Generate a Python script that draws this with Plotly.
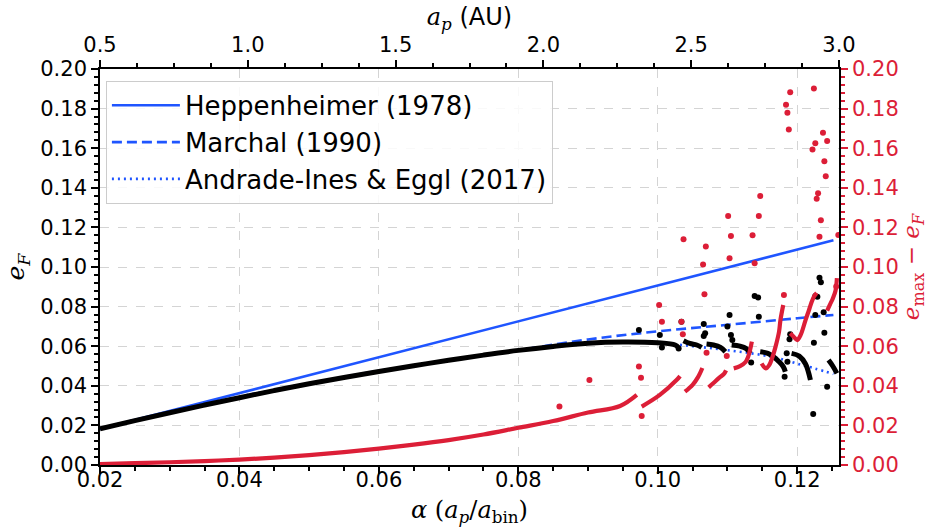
import plotly.graph_objects as go

# ---------------- data ----------------
heppen_alpha = [0.0200, 0.1252]
heppen_e = [0.0182, 0.1135]

marchal_alpha = [0.020, 0.030, 0.040, 0.050, 0.060, 0.070, 0.080, 0.090, 0.100, 0.110, 0.120, 0.1252]
marchal_e = [0.0183, 0.0266, 0.0341, 0.0410, 0.0472, 0.0528, 0.0580, 0.0634, 0.0675, 0.0708, 0.0741, 0.0758]

andrade_alpha = [0.020, 0.030, 0.040, 0.050, 0.060, 0.070, 0.080, 0.090, 0.100, 0.105, 0.110, 0.115, 0.118, 0.120, 0.1225, 0.1252]
andrade_e = [0.0185, 0.0269, 0.0345, 0.0413, 0.0475, 0.0530, 0.0580, 0.0616, 0.0615, 0.0600, 0.0580, 0.0555, 0.0533, 0.0512, 0.0488, 0.0460]

# e_F, dense (continuous-looking) runs of points; None separates runs
ef_run_alpha = [0.0200, 0.0250, 0.0300, 0.0350, 0.0400, 0.0450, 0.0500, 0.0550, 0.0600, 0.0650,
                0.0700, 0.0750, 0.0800, 0.0850, 0.0900, 0.0950, 0.1000, 0.1025, 0.1030, None,
                0.1037, 0.1046, 0.1056, 0.1063, None,
                0.1070, 0.1080, 0.1090, 0.1097, None,
                0.1106, 0.1118, 0.1127, 0.1133, None,
                0.1147, 0.1158, 0.1167, 0.1174, 0.1180, 0.1183, None,
                0.1192, 0.1203, 0.1212, 0.1219, None,
                0.1245, 0.1251, 0.1257]
ef_run_e = [0.0183, 0.0224, 0.0264, 0.0303, 0.0340, 0.0376, 0.0410, 0.0442, 0.0472, 0.0501,
            0.0529, 0.0555, 0.0579, 0.0599, 0.0615, 0.0621, 0.0617, 0.0606, 0.0592, None,
            0.0628, 0.0614, 0.0606, 0.0594, None,
            0.0611, 0.0606, 0.0594, 0.0572, None,
            0.0606, 0.0600, 0.0588, 0.0564, None,
            0.0572, 0.0564, 0.0544, 0.0522, 0.0497, 0.0471, None,
            0.0564, 0.0550, 0.0510, 0.0429, None,
            0.0530, 0.0500, 0.0463]

# e_F, isolated points
ef_pt_alpha = [0.0973, 0.1003, 0.1034, 0.1006, 0.1030, 0.1066, 0.1068, 0.1066, 0.1103, 0.1100,
               0.1105, 0.1107, 0.1134, 0.1139, 0.1144, 0.1145, 0.1182, 0.1190, 0.1189, 0.1185,
               0.1186, 0.1223, 0.1224, 0.1226, 0.1238, 0.1239, 0.1243, 0.1232, 0.1234, 0.1226,
               0.1229]
ef_pt_e = [0.0682, 0.0657, 0.0724, 0.0593, 0.0589, 0.0712, 0.0665, 0.0652, 0.0758, 0.0699,
           0.0657, 0.0631, 0.0518, 0.0853, 0.0846, 0.0749, 0.0446, 0.0660, 0.0635, 0.0564,
           0.0522, 0.0257, 0.0618, 0.0758, 0.0771, 0.0668, 0.0395, 0.0946, 0.0923, 0.0853,
           0.0850]

# e_max - e_F, dense runs
de_run_alpha = [0.020, 0.025, 0.030, 0.035, 0.040, 0.045, 0.050, 0.055, 0.060, 0.065,
                0.070, 0.075, 0.080, 0.085, 0.090, 0.0946, 0.0970, None,
                0.0977, 0.1003, 0.1027, 0.1032, None,
                0.1039, 0.1050, 0.1058, 0.1064, None,
                0.1073, 0.1080, 0.1088, 0.1095, 0.1098, None,
                0.1109, 0.1118, 0.1126, 0.1130, 0.1133, 0.1135, None,
                0.1149, 0.1155, 0.1160, 0.1164, 0.1169, 0.1174, 0.1176, 0.1180, None,
                0.1190, 0.1195, 0.1200, 0.1205, 0.1212, 0.1217, 0.1220, 0.1224, 0.1228, None,
                0.1243, 0.1247, 0.1251, 0.1255, 0.1257]
de_run_e = [0.0005, 0.0009, 0.0014, 0.0020, 0.0027, 0.0037, 0.0050, 0.0065, 0.0083, 0.0103,
            0.0126, 0.0154, 0.0188, 0.0222, 0.0265, 0.0298, 0.0354, None,
            0.0295, 0.0354, 0.0429, 0.0449, None,
            0.0370, 0.0405, 0.0445, 0.0490, None,
            0.0392, 0.0414, 0.0440, 0.0460, 0.0478, None,
            0.0488, 0.0499, 0.0520, 0.0550, 0.0590, 0.0623, None,
            0.0513, 0.0488, 0.0505, 0.0539, 0.0598, 0.0673, 0.0732, 0.0808, None,
            0.0665, 0.0648, 0.0631, 0.0657, 0.0732, 0.0783, 0.0816, 0.0850, 0.0869, None,
            0.0780, 0.0810, 0.0840, 0.0880, 0.0944]

# e_max - e_F, isolated points
de_pt_alpha = [0.0859, 0.0902, 0.0973, 0.0976, 0.0977, 0.1002, 0.1006, 0.1034, 0.1036, 0.1070,
               0.1099, 0.1037, 0.1069, 0.1065, 0.1067, 0.1101, 0.1105, 0.1103, 0.1147, 0.1145,
               0.1136, 0.1139, 0.1181, 0.1190, 0.1184, 0.1186, 0.1188, 0.1224, 0.1237, 0.1243,
               0.1226, 0.1222, 0.1239, 0.1241, 0.1230, 0.1228, 0.1234, 0.1232, 0.1259, 0.1256]
de_pt_e = [0.0295, 0.0429, 0.0497, 0.0441, 0.0247, 0.0808, 0.0724, 0.0724, 0.0660, 0.0567,
           0.0551, 0.1140, 0.1103, 0.1013, 0.0862, 0.1258, 0.1157, 0.1044, 0.1359, 0.1258,
           0.1160, 0.1019, 0.0859, 0.1882, 0.1820, 0.1779, 0.1695, 0.1901, 0.1678, 0.1636,
           0.1625, 0.1594, 0.1534, 0.1458, 0.1372, 0.1345, 0.1236, 0.1153, 0.1162, 0.0901]

x_range = [0.02, 0.126]
top_range = [0.5, 3.0]
y_range = [0.0, 0.2]

# ---------------- styling ----------------
BLUE = "#1f55ff"
RED = "#dc1e37"
TICKFONT = dict(family="DejaVu Sans", size=21, color="black")
MATH = "font-family:'DejaVu Serif'"

fig = go.Figure()

fig.add_trace(go.Scatter(x=heppen_alpha, y=heppen_e, mode="lines", name="Heppenheimer (1978)",
                         line=dict(color=BLUE, width=2.6)))
fig.add_trace(go.Scatter(x=marchal_alpha, y=marchal_e, mode="lines", name="Marchal (1990)",
                         line=dict(color=BLUE, width=2.6, dash="10px,5px", shape="spline")))
fig.add_trace(go.Scatter(x=andrade_alpha, y=andrade_e, mode="lines", name="Andrade-Ines &amp; Eggl (2017)",
                         line=dict(color=BLUE, width=2.6, dash="2px,4px", shape="spline")))

fig.add_trace(go.Scatter(x=ef_run_alpha, y=ef_run_e, mode="lines", showlegend=False,
                         connectgaps=False, line=dict(color="black", width=5, shape="spline")))
fig.add_trace(go.Scatter(x=ef_pt_alpha, y=ef_pt_e, mode="markers", showlegend=False,
                         marker=dict(color="black", size=6)))

fig.add_trace(go.Scatter(x=de_run_alpha, y=de_run_e, mode="lines", showlegend=False, yaxis="y2",
                         connectgaps=False, line=dict(color=RED, width=4.2, shape="spline")))
fig.add_trace(go.Scatter(x=de_pt_alpha, y=de_pt_e, mode="markers", showlegend=False, yaxis="y2",
                         marker=dict(color=RED, size=6)))

# invisible trace so the top axis is drawn
fig.add_trace(go.Scatter(x=top_range, y=[-1, -1], mode="markers", xaxis="x2",
                         showlegend=False, hoverinfo="skip", marker=dict(opacity=0)))

common_axis = dict(showline=True, linecolor="black", linewidth=1.6, ticks="outside",
                   ticklen=7, tickwidth=2, tickcolor="black", tickfont=TICKFONT, zeroline=False,
                   automargin=False, tickmode="linear")

fig.update_layout(
    width=928, height=530,
    margin=dict(l=100, r=89, t=69, b=65, pad=0, autoexpand=False),
    plot_bgcolor="white", paper_bgcolor="white",
    font=dict(family="DejaVu Sans", color="black"),
    xaxis=dict(range=x_range, tick0=0.02, dtick=0.02, tickformat=".2f", ticklabelstandoff=-12,
               showgrid=True, gridcolor="#d4d4d4", griddash="dash", gridwidth=1,
               minor=dict(dtick=0.005, tick0=0.02, ticks="outside", ticklen=4, tickwidth=1.5,
                          tickcolor="black", showgrid=False),
               title=dict(text=f"<span style=\"{MATH}\"><i>α</i> (<i>a</i><sub><i>p</i></sub>/<i>a</i><sub>bin</sub>)</span>",
                          font=dict(size=24), standoff=10),
               **common_axis),
    xaxis2=dict(range=top_range, overlaying="x", side="top", tick0=0.5, dtick=0.5, tickformat=".1f",
                showgrid=False,
                minor=dict(dtick=0.125, tick0=0.5, ticks="outside", ticklen=4, tickwidth=1.5,
                           tickcolor="black", showgrid=False),
                title=dict(text=f"<span style=\"{MATH}\"><i>a</i><sub><i>p</i></sub></span> (AU)",
                           font=dict(size=24), standoff=0),
                **common_axis),
    yaxis=dict(range=y_range, tick0=0, dtick=0.02, tickformat=".2f",
               showgrid=True, gridcolor="#d4d4d4", griddash="dash", gridwidth=1,
               minor=dict(dtick=0.004, tick0=0, ticks="outside", ticklen=4, tickwidth=1.5,
                          tickcolor="black", showgrid=False),
               title=dict(text=f"<span style=\"{MATH}\"><i>e</i><sub><i>F</i></sub></span>",
                          font=dict(size=25), standoff=8),
               **common_axis),
    yaxis2=dict(range=y_range, overlaying="y", side="right", tickmode="linear", tick0=0, dtick=0.02,
                tickformat=".2f", automargin=False,
                showgrid=False, showline=True, linecolor="black", linewidth=1.6, zeroline=False,
                ticks="outside", ticklen=7, tickwidth=2, tickcolor=RED,
                tickfont=dict(family="DejaVu Sans", size=21, color=RED),
                minor=dict(dtick=0.004, tick0=0, ticks="outside", ticklen=4, tickwidth=1.5,
                           tickcolor=RED, showgrid=False),
                title=dict(text=f"<span style=\"{MATH}\"><i>e</i><sub>max</sub> − <i>e</i><sub><i>F</i></sub></span>",
                           font=dict(size=23, color=RED), standoff=6)),
    legend=dict(x=0.008, y=0.97, xanchor="left", yanchor="top",
                bgcolor="rgba(255,255,255,0.85)", bordercolor="#cccccc", borderwidth=1,
                font=dict(family="DejaVu Sans", size=26, color="black"),
                itemwidth=68, tracegroupgap=0),
)

fig.write_html("out.html")
